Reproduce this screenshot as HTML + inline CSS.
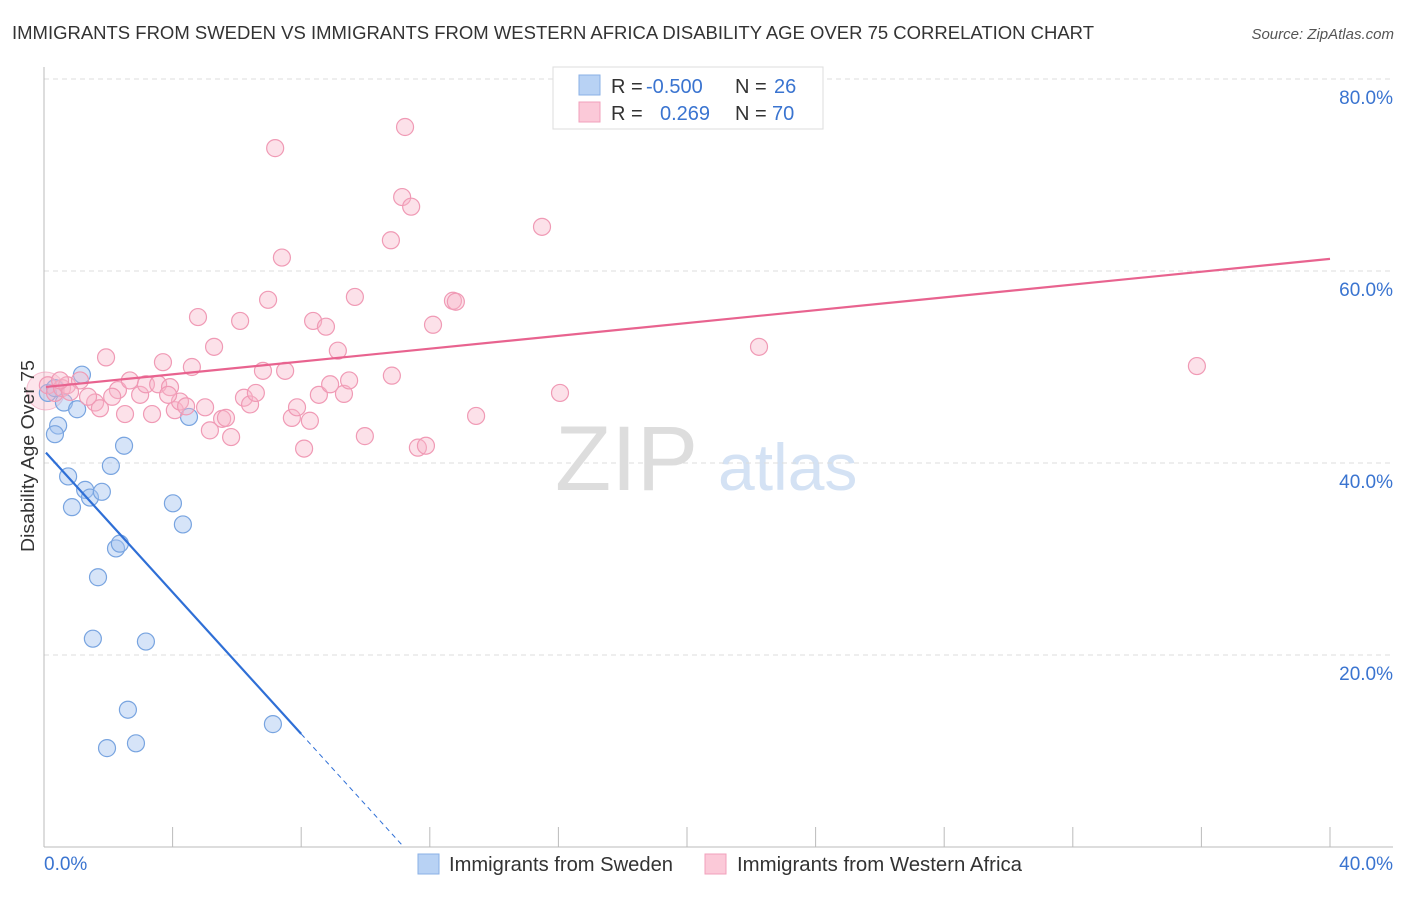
<!DOCTYPE html>
<html><head><meta charset="utf-8"><style>
body{margin:0;background:#fff;font-family:"Liberation Sans",sans-serif}
svg text{font-family:"Liberation Sans",sans-serif}
</style></head><body>
<svg id="chart" width="1406" height="892">
<text x="12" y="39" font-size="18" fill="#333" textLength="1082" lengthAdjust="spacingAndGlyphs">IMMIGRANTS FROM SWEDEN VS IMMIGRANTS FROM WESTERN AFRICA DISABILITY AGE OVER 75 CORRELATION CHART</text>
<text x="1394" y="39" font-size="15" fill="#555" font-style="italic" text-anchor="end">Source: ZipAtlas.com</text>
<text x="555" y="490" font-size="92" fill="#ddd" font-family="Liberation Serif,serif">ZIP</text>
<text x="718" y="490" font-size="66" fill="#d4e2f4">atlas</text>
<g id="grid"></g>
<g id="axes"></g>
<g id="marks"></g>
<text transform="translate(34,456) rotate(-90)" font-size="18" fill="#333" text-anchor="middle" textLength="192" lengthAdjust="spacingAndGlyphs">Disability Age Over 75</text>
<g>
<rect x="553" y="67" width="270" height="62" fill="#fff" stroke="#ddd"/>
<rect x="579" y="75" width="21" height="20" fill="#b8d2f4" stroke="#8ab0e6"/>
<rect x="579" y="102" width="21" height="20" fill="#fbc9d8" stroke="#f2a0bb"/>
<text x="611" y="93" font-size="20" fill="#333">R = <tspan fill="#3a74d0" x="646">-0.500</tspan></text>
<text x="735" y="93" font-size="20" fill="#333">N = <tspan fill="#3a74d0" x="774">26</tspan></text>
<text x="611" y="120" font-size="20" fill="#333">R = <tspan fill="#3a74d0" x="660">0.269</tspan></text>
<text x="735" y="120" font-size="20" fill="#333">N = <tspan fill="#3a74d0" x="772">70</tspan></text>
</g>
<g>
<rect x="418" y="854" width="21" height="20" fill="#b8d2f4" stroke="#8ab0e6"/>
<text x="449" y="871" font-size="20" fill="#333" textLength="224" lengthAdjust="spacingAndGlyphs">Immigrants from Sweden</text>
<rect x="705" y="854" width="21" height="20" fill="#fbc9d8" stroke="#f2a0bb"/>
<text x="737" y="871" font-size="20" fill="#333" textLength="285" lengthAdjust="spacingAndGlyphs">Immigrants from Western Africa</text>
</g>
</svg>
<script>
const swedenX=[0.12,0.44,0.34,1.18,0.62,1.03,0.75,0.87,1.28,1.43,1.80,2.08,2.49,2.24,2.36,1.68,1.52,3.17,2.61,1.96,2.86,4.01,4.32,4.51,7.12,0.34];
const swedenY=[47.3,43.9,43.0,49.2,46.3,45.6,38.6,35.4,37.2,36.4,37.0,39.7,41.8,31.1,31.6,28.1,21.7,21.4,14.3,10.3,10.8,35.8,33.6,44.8,12.8,47.8];
const africaX=[0.12,0.34,0.56,0.72,1.12,0.81,1.59,1.74,1.93,2.30,2.52,2.67,2.99,3.17,3.36,3.55,3.70,3.92,4.07,4.23,4.42,4.60,4.79,5.01,5.16,5.29,5.54,5.66,5.82,6.10,6.22,6.41,6.59,6.81,6.97,7.19,7.40,7.50,7.71,7.87,8.09,8.27,8.37,8.77,8.55,8.90,9.14,9.33,9.49,9.67,9.98,10.79,10.82,11.14,11.23,11.42,11.63,11.88,12.10,12.72,12.81,13.44,15.49,16.05,22.24,35.86,0.50,1.37,2.12,3.86];
const africaY=[48.1,47.3,47.8,48.1,48.6,47.4,46.3,45.7,51.0,47.6,45.1,48.6,47.1,48.2,45.1,48.2,50.5,47.9,45.5,46.4,45.9,50.0,55.2,45.8,43.4,52.1,44.6,44.7,42.7,54.8,46.8,46.1,47.3,49.6,57.0,72.8,61.4,49.6,44.7,45.8,41.5,44.4,54.8,54.2,47.1,48.2,51.7,47.2,48.6,57.3,42.8,63.2,49.1,67.7,75.0,66.7,41.6,41.8,54.4,56.9,56.8,44.9,64.6,47.3,52.1,50.1,48.6,46.9,46.9,47.1];
const yTicks=[20,40,60,80];
const yTickLabels=["20.0%","40.0%","60.0%","80.0%"];
const xTicks=[0,4,8,12,16,20,24,28,32,36,40];
const xEndLabels=["0.0%","40.0%"];
const swedenTrend=[41.3,-3.69];
const africaTrend=[47.9,0.334];

const NS="http://www.w3.org/2000/svg";
const X=v=>44+v*32.15;
const Y=v=>847-v*9.6;
function mk(tag,attrs,parent){const e=document.createElementNS(NS,tag);for(const k in attrs)e.setAttribute(k,attrs[k]);parent.appendChild(e);return e;}
const grid=document.getElementById('grid'),axes=document.getElementById('axes'),marks=document.getElementById('marks');
yTicks.forEach((t,i)=>{
 const l=mk('line',{x1:44,x2:1393,y1:Y(t),y2:Y(t),stroke:'#ddd','stroke-dasharray':'5,4'},grid);
 
 
 const tx=mk('text',{x:1393,y:Y(t)+25,'font-size':19,fill:'#3a74d0','text-anchor':'end'},axes);
 tx.textContent=yTickLabels[i];
 
 
});
const ya=mk('line',{x1:44,x2:44,y1:67,y2:847,stroke:'#bbb'},axes);


const xa=mk('line',{x1:44,x2:1393,y1:847,y2:847,stroke:'#bbb'},axes);


xTicks.forEach(t=>{
 const l=mk('line',{x1:X(t),x2:X(t),y1:827,y2:847,stroke:'#bbb'},axes);
 
 
});
[[0,'start',44],[40,'end',1393]].forEach((d,i)=>{
 const tx=mk('text',{x:d[2],y:870,'font-size':19,fill:'#3a74d0','text-anchor':d[1]},axes);
 tx.textContent=xEndLabels[i];
 
 
});
const b1=mk('circle',{cx:X(0.05),cy:Y(47.5),r:19,fill:'rgba(248,180,200,0.35)',stroke:'rgba(240,150,180,0.6)'},marks);


swedenX.forEach((x,i)=>{
 const c=mk('circle',{cx:X(x),cy:Y(swedenY[i]),r:8.5,fill:'rgba(164,196,240,0.45)',stroke:'#78a4e0','stroke-width':1.2},marks);
 
 
});
africaX.forEach((x,i)=>{
 const c=mk('circle',{cx:X(x),cy:Y(africaY[i]),r:8.5,fill:'rgba(248,180,200,0.4)',stroke:'#f09ab5','stroke-width':1.2},marks);
 
 
});
const sEnd=8.0, sZero=-swedenTrend[0]/swedenTrend[1];
const t1=mk('line',{x1:X(0.06),y1:Y(swedenTrend[0]+swedenTrend[1]*0.06),x2:X(sEnd),y2:Y(swedenTrend[0]+swedenTrend[1]*sEnd),stroke:'#2f6fd6','stroke-width':2.2},marks);


const t2=mk('line',{x1:X(sEnd),y1:Y(swedenTrend[0]+swedenTrend[1]*sEnd),x2:X(sZero),y2:Y(0),stroke:'#2f6fd6','stroke-width':1,'stroke-dasharray':'5,4'},marks);


const t3=mk('line',{x1:X(0.06),y1:Y(africaTrend[0]+africaTrend[1]*0.06),x2:X(40),y2:Y(africaTrend[0]+africaTrend[1]*40),stroke:'#e8638f','stroke-width':2.2},marks);


</script>
</body></html>
